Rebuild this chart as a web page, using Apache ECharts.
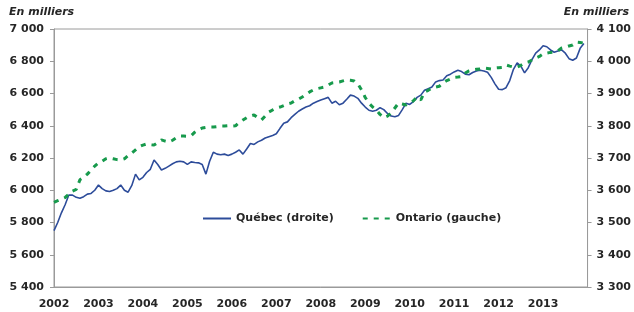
<!DOCTYPE html>
<html>
<head>
<meta charset="utf-8">
<script src="https://cdn.jsdelivr.net/npm/echarts@6/dist/echarts.min.js"></script>
<style>
html,body{margin:0;padding:0;background:#fff;}
#chart{width:634px;height:312px;}
</style>
</head>
<body>
<div id="chart"></div>
<script>
// Monthly categories Jan 2002 .. Jan 2014 (axis end)
const years = [2002,2003,2004,2005,2006,2007,2008,2009,2010,2011,2012,2013];
const months = [];
years.forEach(y => { for (let m = 1; m <= 12; m++) months.push(y + '-' + (m < 10 ? '0' + m : m)); });
months.push('2014-01');

// Québec (droite), thousands — Jan 2002 .. Dec 2013
const quebec = [
  3475,3500,3530,3555,3585,3585,3578,3575,3580,3588,3590,3600,
  3616,3605,3598,3596,3600,3605,3616,3600,3594,3615,3650,3632,
  3640,3655,3665,3694,3680,3663,3668,3675,3682,3688,3690,3688,
  3680,3688,3686,3685,3680,3650,3690,3718,3712,3710,3712,3708,
  3712,3718,3725,3712,3728,3745,3742,3750,3755,3762,3766,3770,
  3775,3792,3808,3812,3825,3835,3845,3852,3858,3862,3870,3875,
  3880,3884,3888,3870,3876,3865,3870,3882,3895,3892,3885,3870,
  3858,3848,3845,3848,3856,3850,3838,3830,3828,3832,3850,3870,
  3866,3875,3888,3895,3910,3915,3920,3936,3940,3942,3955,3960,
  3967,3972,3968,3960,3958,3965,3970,3972,3970,3966,3950,3930,
  3913,3912,3918,3940,3975,3995,3985,3964,3980,4005,4025,4035,
  4048,4045,4035,4028,4032,4035,4025,4008,4003,4010,4040,4055
];

// Ontario (gauche), thousands — Jan 2002 .. Dec 2013
const ontario = [
  5925,5935,5945,5955,5975,5995,6005,6065,6080,6100,6125,6150,
  6170,6180,6195,6200,6195,6190,6188,6195,6215,6230,6250,6270,
  6280,6287,6282,6280,6295,6312,6305,6299,6310,6325,6336,6336,
  6335,6338,6360,6374,6386,6390,6392,6392,6395,6398,6398,6400,
  6398,6400,6420,6436,6450,6460,6467,6450,6436,6460,6485,6498,
  6510,6516,6525,6535,6541,6555,6565,6578,6595,6610,6622,6630,
  6635,6640,6652,6665,6668,6671,6678,6684,6682,6678,6660,6622,
  6575,6540,6516,6498,6470,6450,6460,6479,6510,6541,6535,6529,
  6540,6555,6578,6560,6609,6620,6634,6640,6645,6665,6680,6690,
  6700,6702,6705,6727,6740,6746,6750,6752,6758,6755,6752,6758,
  6760,6762,6777,6770,6764,6764,6775,6789,6795,6808,6820,6830,
  6845,6851,6855,6857,6865,6882,6888,6895,6901,6919,6916,6913
];

const seriesNames = ['Québec (droite)', 'Ontario (gauche)'];
const unitLabel = 'En milliers';

const fmt = v => {
  const s = String(Math.round(v));
  return s.length > 3 ? s.slice(0, s.length - 3) + ' ' + s.slice(-3) : s;
};

const FONT = '"DejaVu Sans", Verdana, sans-serif';
const chart = echarts.init(document.getElementById('chart'), null, {renderer: 'canvas'});
const labelStyle = {color: '#262626', fontSize: 11, fontWeight: 'bold', fontFamily: FONT};

chart.setOption({
  animation: false,
  backgroundColor: '#fff',
  grid: {left: 54, right: 43, top: 29, bottom: 25, show: true, borderColor: '#9a9a9a', borderWidth: 1, backgroundColor: 'transparent'},
  graphic: [
    {type: 'text', left: 9, top: 7, style: {text: unitLabel, fill: '#262626', font: 'italic bold 11px ' + FONT}},
    {type: 'text', right: 5, top: 7, style: {text: unitLabel, fill: '#262626', font: 'italic bold 11px ' + FONT}}
  ],
  legend: {
    left: 197, top: 208, itemWidth: 28, itemHeight: 10, itemGap: 28,
    itemStyle: {opacity: 0},
    textStyle: {color: '#262626', fontSize: 11, fontWeight: 'bold', fontFamily: FONT},
    data: seriesNames
  },
  xAxis: {
    type: 'category', data: months, boundaryGap: false,
    axisLine: {lineStyle: {color: '#9a9a9a'}},
    axisTick: {show: false},
    axisLabel: Object.assign({}, labelStyle, {
      interval: (i) => i % 12 === 0 && i < 144,
      formatter: (v) => v.slice(0, 4), margin: 12
    }),
    splitLine: {show: false}
  },
  yAxis: [
    {
      type: 'value', min: 5400, max: 7000, interval: 200, position: 'left',
      axisLine: {show: true, lineStyle: {color: '#9a9a9a'}},
      axisTick: {show: true, length: 4, lineStyle: {color: '#9a9a9a'}},
      axisLabel: Object.assign({}, labelStyle, {formatter: fmt, margin: 10}),
      splitLine: {show: false}
    },
    {
      type: 'value', min: 3300, max: 4100, interval: 100, position: 'right',
      axisLine: {show: true, lineStyle: {color: '#9a9a9a'}},
      axisTick: {show: true, length: 4, lineStyle: {color: '#9a9a9a'}},
      axisLabel: Object.assign({}, labelStyle, {formatter: fmt, margin: 9}),
      splitLine: {show: false}
    }
  ],
  series: [
    {
      name: seriesNames[0], type: 'line', yAxisIndex: 1, data: quebec,
      symbol: 'none', smooth: false,
      lineStyle: {color: '#2d4c9a', width: 1.6},
      itemStyle: {color: '#2d4c9a'}
    },
    {
      name: seriesNames[1], type: 'line', yAxisIndex: 0, data: ontario,
      symbol: 'none', smooth: false, z: 3,
      lineStyle: {color: '#179a4c', width: 3, type: [5, 6]},
      itemStyle: {color: '#179a4c'}
    }
  ]
});
</script>
</body>
</html>
